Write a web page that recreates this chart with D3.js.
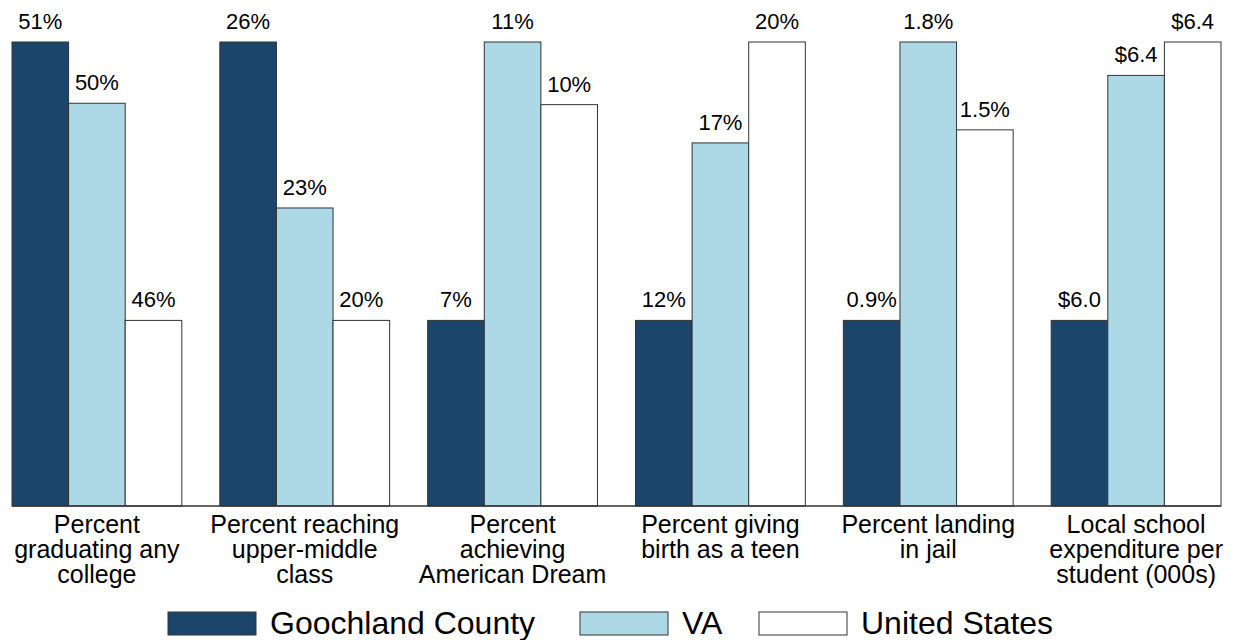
<!DOCTYPE html>
<html>
<head>
<meta charset="utf-8">
<script src="https://cdn.jsdelivr.net/npm/d3@7"></script>
<style>
  body { margin: 0; background: #fff; }
  text { font-family: "Liberation Sans", Arial, sans-serif; fill: #000; }
</style>
</head>
<body>
<script>
// categories (each row of the label is one line)
var categories = [
  ["Percent", "graduating any", "college"],
  ["Percent reaching", "upper-middle", "class"],
  ["Percent", "achieving", "American Dream"],
  ["Percent giving", "birth as a teen"],
  ["Percent landing", "in jail"],
  ["Local school", "expenditure per", "student (000s)"]
];
var seriesNames = ["Goochland County", "VA", "United States"];
var seriesColors = ["#1c456c", "#add8e6", "#ffffff"];

// values per category, in series order
var goochland = [51, 25.6, 7, 12, 0.9, 6.0];
var virginia = [49.9, 22.5, 11, 17.1, 1.8, 6.352];
var unitedStates = [46, 20.4, 10.1, 20, 1.516, 6.4];
var labelFormats = ["pct0", "pct0", "pct0", "pct0", "pct1", "dollar"];

var width = 1236, height = 640;
var plotTop = 42, plotBottom = 506;
var minFrac = 0.4; // smallest bar in each group fills 40% of plot height

var svg = d3.select("body").append("svg")
    .attr("width", width).attr("height", height);

var x = d3.scaleBand()
    .domain(d3.range(categories.length))
    .range([12, 1221])
    .paddingInner(0.183)
    .paddingOuter(0);

var xs = d3.scaleBand()
    .domain(d3.range(seriesNames.length))
    .range([0, x.bandwidth()]);

function fmt(v, kind) {
  if (kind == "pct0") return d3.format(".0f")(v) + "%";
  if (kind == "pct1") return d3.format(".1f")(v) + "%";
  return "$" + d3.format(".1f")(v);
}

var rows = categories.map(function(c, i) {
  return [goochland[i], virginia[i], unitedStates[i]];
});

rows.forEach(function(vals, i) {
  // each group gets its own scale
  var y = d3.scaleLinear()
      .domain([d3.min(vals), d3.max(vals)])
      .range([plotBottom - minFrac * (plotBottom - plotTop), plotTop]);

  var g = svg.append("g").attr("transform", "translate(" + x(i) + ",0)");

  g.selectAll("rect").data(vals).enter().append("rect")
      .attr("x", function(d, j) { return xs(j); })
      .attr("y", function(d) { return y(d); })
      .attr("width", xs.bandwidth())
      .attr("height", function(d) { return plotBottom - y(d); })
      .style("fill", function(d, j) { return seriesColors[j]; })
      .style("stroke", "#333")
      .style("stroke-width", 1);

  g.selectAll("text.val").data(vals).enter().append("text")
      .attr("class", "val")
      .attr("x", function(d, j) { return xs(j) + xs.bandwidth() / 2; })
      .attr("y", function(d) { return y(d) - 13; })
      .attr("text-anchor", "middle")
      .style("font-size", "22px")
      .text(function(d) { return fmt(d, labelFormats[i]); });

  g.selectAll("text.cat").data(categories[i]).enter().append("text")
      .attr("class", "cat")
      .attr("x", x.bandwidth() / 2)
      .attr("y", function(d, k) { return 533 + k * 25; })
      .attr("text-anchor", "middle")
      .style("font-size", "25px")
      .text(function(d) { return d; });
});

// baseline
svg.append("line")
    .attr("x1", 12).attr("x2", 1221)
    .attr("y1", plotBottom).attr("y2", plotBottom)
    .style("stroke", "#333").style("stroke-width", 1.5);

// legend
var legendX = [168, 580, 759];
var legend = svg.selectAll("g.legend").data(seriesNames).enter().append("g")
    .attr("class", "legend")
    .attr("transform", function(d, i) { return "translate(" + legendX[i] + ",612)"; });
legend.append("rect")
    .attr("width", 88).attr("height", 23)
    .style("fill", function(d, i) { return seriesColors[i]; })
    .style("stroke", "#333");
legend.append("text")
    .attr("x", 102).attr("y", 22)
    .style("font-size", "32px")
    .text(function(d) { return d; });
</script>
</body>
</html>
